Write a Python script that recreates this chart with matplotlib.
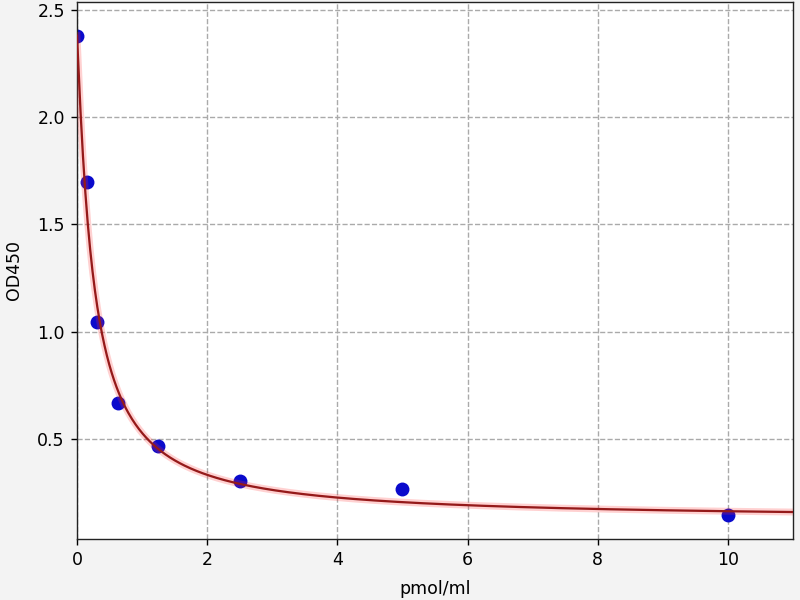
import numpy as np
import matplotlib
matplotlib.use("Agg")
import matplotlib.pyplot as plt

# Standard points (concentration in pmol/ml, OD450)
conc = [0.0, 0.156, 0.3125, 0.625, 1.25, 2.5, 5.0, 10.0]
od = [2.38, 1.70, 1.045, 0.668, 0.467, 0.304, 0.267, 0.146]

# 4-parameter logistic fit parameters
fit_a = 2.38
fit_b = 1.1
fit_c = 0.25
fit_d = 0.125

x_ticks = [0, 2, 4, 6, 8, 10]
y_ticks = [0.5, 1.0, 1.5, 2.0, 2.5]

fig = plt.figure(figsize=(6.4, 4.8), dpi=125, facecolor="#f3f3f3")
ax = fig.add_axes([0.09625, 0.1017, 0.895, 0.895])
ax.set_facecolor("white")

xs = np.linspace(0, 11, 600)
ys = fit_d + (fit_a - fit_d) / (1 + (xs / fit_c) ** fit_b)

ax.plot(conc, od, "o", color="#0a0acc", markersize=7, zorder=2)
ax.plot(xs, ys, color="#ff3030", alpha=0.22, linewidth=4, zorder=3)
ax.plot(xs, ys, color="#951a1a", linewidth=1.3, zorder=4)

ax.set_xlim(0, 11)
ax.set_ylim(0.034, 2.537)
ax.set_xticks(x_ticks)
ax.set_yticks(y_ticks)
ax.grid(True, linestyle="--", color="#aaaaaa", linewidth=0.8)
ax.set_axisbelow(True)
ax.set_xlabel("pmol/ml", labelpad=6)
ax.set_ylabel("OD450", labelpad=8)
for s in ax.spines.values():
    s.set_color("#222222")

fig.savefig("out.png", dpi=125, facecolor=fig.get_facecolor())
